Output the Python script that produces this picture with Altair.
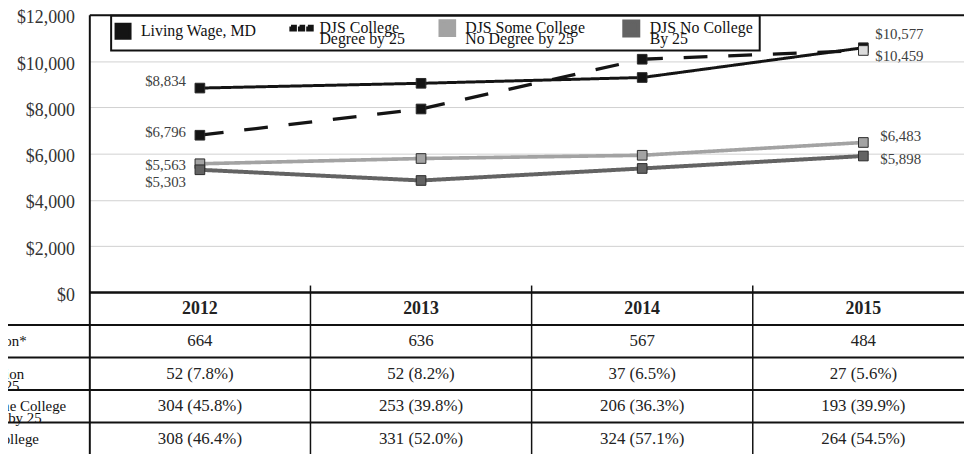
import altair as alt
import pandas as pd

# ---------------- data ----------------
years = ["2012", "2013", "2014", "2015"]
series_names = [
    "Living Wage, MD",
    "DJS College|Degree by 25",
    "DJS  Some College|No Degree by 25",
    "DJS  No College|By 25",
]
living_wage = [8834, 9040, 9290, 10577]
college_degree = [6796, 7930, 10080, 10459]
some_college = [5563, 5790, 5930, 6483]
no_college = [5303, 4840, 5360, 5898]

row_keys = ["year", "population", "degree", "some", "none"]
row_labels = ["", "Population*", "Graduation|by age 25",
              "DJS Youth Some College|No Degree by 25", "DJS No College"]
population = ["664", "636", "567", "484"]
degree_counts = ["52 (7.8%)", "52 (8.2%)", "37 (6.5%)", "27 (5.6%)"]
some_counts = ["304 (45.8%)", "253 (39.8%)", "206 (36.3%)", "193 (39.9%)"]
none_counts = ["308 (46.4%)", "331 (52.0%)", "324 (57.1%)", "264 (54.5%)"]

# ---------------- tables ----------------
values = [living_wage, college_degree, some_college, no_college]
lines_df = pd.DataFrame(
    [{"series": s, "year": y, "value": v}
     for s, vals in zip(series_names, values) for y, v in zip(years, vals)]
)
table_cols = [years, population, degree_counts, some_counts, none_counts]
table_df = pd.DataFrame(
    [{"row": r, "year": y, "text": t}
     for r, col in zip(row_keys, table_cols) for y, t in zip(years, col)]
)
rows_df = pd.DataFrame({"row": row_keys})
cols_df = pd.DataFrame({"year": years[1:]})

# ---------------- styling ----------------
FONT = "Liberation Serif"
colors = ["#141414", "#141414", "#a3a3a3", "#636363"]
dashes = [[1, 0], [24, 21], [1, 0], [1, 0]]
widths = [3, 4, 4, 3.5]
dash_path = ("M-1.5,-0.25H-0.9V0.25H-1.5Z M-0.28,-0.25H0.28V0.25H-0.28Z "
             "M0.9,-0.25H1.5V0.25H0.9Z")
shapes = ["square", dash_path, "square", "square"]

xscale = alt.Scale(type="band", domain=years, range=[0, 892],
                   paddingInner=0, paddingOuter=0)
yscale = alt.Scale(domain=[0, 12000], range=[280, 0], nice=False)
tscale = alt.Scale(type="band", domain=row_keys, range=[280, 444],
                   paddingInner=0, paddingOuter=0)
cscale = alt.Scale(domain=series_names, range=colors)

def xenc(axis=alt.Undefined, **kw):
    return alt.X("year:N", scale=xscale, axis=axis, title=None, **kw)

def yenc(axis=alt.Undefined):
    return alt.Y("value:Q", scale=yscale, axis=axis, title=None)

def tern(keys, labels):
    expr = "['']"
    for k, v in reversed(list(zip(keys, labels))):
        expr = f"datum.label == '{k}' ? split('{v}', '|') : {expr}"
    return expr

base = alt.Chart(lines_df)

legend = alt.Legend(
    title=None, orient="none", legendX=22, legendY=1, direction="horizontal",
    labelExpr="split(datum.label, '|')", labelFont=FONT, labelFontSize=16,
    labelColor="#111", labelBaseline="middle", labelOffset=9,
    symbolSize=200, symbolStrokeColor="#222", symbolStrokeWidth=1,
    symbolOpacity=1, columnPadding=27, padding=3,
    strokeColor="#111", fillColor="white",
)

y_axis = alt.Axis(
    orient="left", values=[0, 2000, 4000, 6000, 8000, 10000, 12000],
    format="$,.0f", ticks=False, labelPadding=15, labelOffset=3,
    labelFont=FONT, labelFontSize=18, labelColor="#333",
    domainColor="#111", domainWidth=2, grid=True, gridColor="#d0d0d0",
    gridWidth=1,
)
x_axis = alt.Axis(orient="top", labels=False, ticks=False, grid=False,
                  domainColor="#111", domainWidth=2)

# first layer carries the legend and the axes
legend_layer = base.mark_point(filled=True, opacity=0).encode(
    x=xenc(x_axis), y=yenc(y_axis),
    color=alt.Color("series:N", scale=cscale, legend=legend),
    shape=alt.Shape("series:N", scale=alt.Scale(domain=series_names, range=shapes),
                    legend=legend),
)

lines = base.mark_line(strokeCap="butt").encode(
    x=xenc(), y=yenc(),
    color=alt.Color("series:N", scale=cscale, legend=None),
    strokeDash=alt.StrokeDash("series:N",
                              scale=alt.Scale(domain=series_names, range=dashes),
                              legend=None),
    strokeWidth=alt.StrokeWidth("series:N",
                                scale=alt.Scale(domain=series_names, range=widths),
                                legend=None),
)

points = base.mark_square(size=95, stroke="#2a2a2a", strokeWidth=1, opacity=1).encode(
    x=xenc(), y=yenc(),
    color=alt.condition(
        f"datum.series == '{series_names[1]}' && datum.year == '{years[-1]}'",
        alt.value("#dcdcdc"),
        alt.Color("series:N", scale=cscale, legend=None),
    ),
)

# data labels: (series index, year, align, dx, dy)
label_specs = [
    (0, years[0], "right", -14, -7),
    (1, years[0], "right", -14, -3),
    (2, years[0], "right", -14, 1),
    (3, years[0], "right", -14, 12),
    (0, years[-1], "left", 12, -14),
    (1, years[-1], "left", 12, 6),
    (2, years[-1], "left", 17, -6),
    (3, years[-1], "left", 17, 3),
]
label_layers = []
for si, yr, al, dx, dy in label_specs:
    label_layers.append(
        base.transform_filter(
            f"datum.series == '{series_names[si]}' && datum.year == '{yr}'"
        ).mark_text(align=al, baseline="middle", dx=dx, dy=dy, font=FONT,
                    fontSize=15, color="#404040").encode(
            x=xenc(), y=yenc(), text=alt.Text("value:Q", format="$,.0f")
        )
    )

chart_group = alt.layer(legend_layer, lines, points, *label_layers)

# ---------------- table ----------------
tbase = alt.Chart(table_df)
table_axis = alt.Axis(
    orient="left", ticks=False, tickSize=0, labelPadding=100,
    labelAlign="center", labelBaseline="middle",
    labelExpr=tern(row_keys, row_labels), labelFont=FONT, labelFontSize=15,
    labelColor="#111", labelLineHeight=12, labelLimit=500,
    domainColor="#111", domainWidth=2, grid=False,
)
body = tbase.transform_filter("datum.row != 'year'").mark_text(
    font=FONT, fontSize=17, color="#222", baseline="middle").encode(
    x=xenc(), y=alt.Y("row:N", scale=tscale, axis=table_axis, title=None),
    text="text:N",
)
header = tbase.transform_filter("datum.row == 'year'").mark_text(
    font=FONT, fontSize=18, fontWeight="bold", color="#222", baseline="middle").encode(
    x=xenc(), y=alt.Y("row:N", scale=tscale, title=None), text="text:N",
)
rbase = alt.Chart(rows_df)
top_rule = rbase.transform_filter("datum.row == 'year'").mark_rule(
    color="#111", strokeWidth=2.5).encode(
    y=alt.Y("row:N", scale=tscale, title=None, bandPosition=0),
    x=alt.value(0), x2=alt.value(892),
)
row_rules = rbase.transform_filter("datum.row != 'year'").mark_rule(
    color="#111", strokeWidth=2).encode(
    y=alt.Y("row:N", scale=tscale, title=None, bandPosition=0),
    x=alt.value(-90), x2=alt.value(892),
)
col_rules = alt.Chart(cols_df).mark_rule(color="#111", strokeWidth=1.5).encode(
    x=xenc(bandPosition=0), y=alt.value(273), y2=alt.value(444),
)
table_group = alt.layer(body, header, top_rule, row_rules, col_rules)

chart = alt.layer(chart_group, table_group).resolve_scale(
    y="independent"
).properties(
    width=882, height=441,
    autosize=alt.AutoSizeParams(type="none"),
    padding={"left": 82, "top": 5, "right": 0, "bottom": 0},
    background="white",
).configure(
    font=FONT,
    style={"guide-label": {"lineHeight": 11, "font": FONT},
           "guide-title": {"font": FONT}},
).configure_view(stroke=None).configure_legend(strokeWidth=2)

chart.save("out.html", embed_options={"renderer": "svg", "actions": False})
